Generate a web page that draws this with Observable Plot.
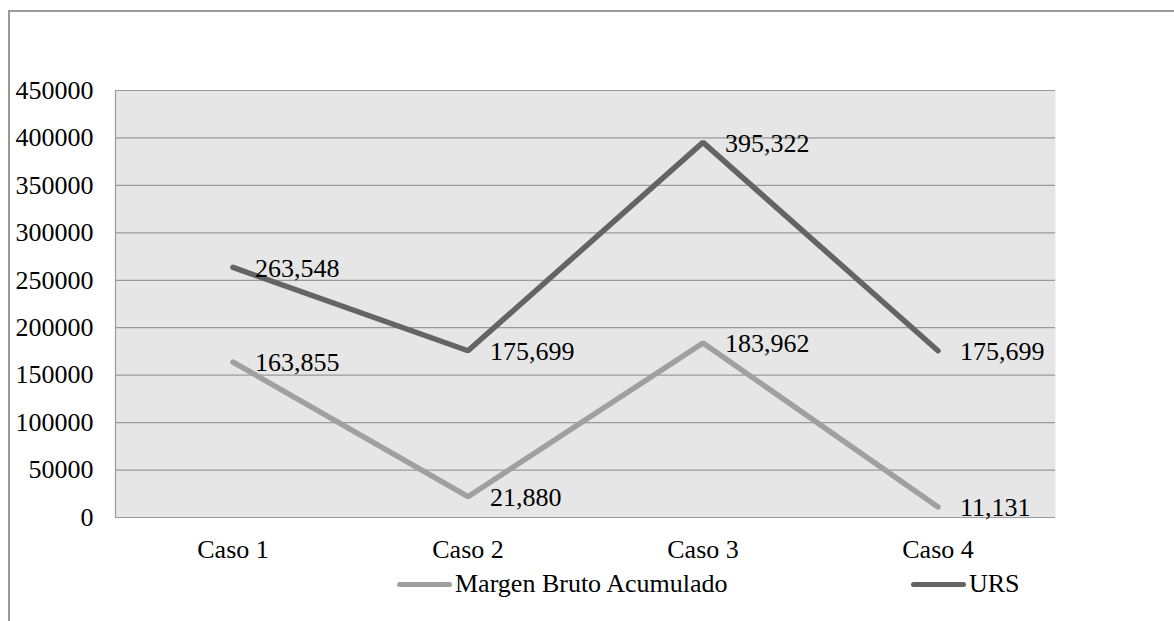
<!DOCTYPE html>
<html>
<head>
<meta charset="utf-8">
<script src="https://cdn.jsdelivr.net/npm/d3@7"></script>
<script src="https://cdn.jsdelivr.net/npm/@observablehq/plot@0.6"></script>
<style>
  html, body { margin: 0; padding: 0; background: #fff; }
  body { width: 1174px; height: 621px; position: relative; overflow: hidden; font-family: "Liberation Serif", "Times New Roman", serif; }
  #frame { position: absolute; left: 8px; top: 10px; width: 1180px; height: 640px; border-left: 2px solid #9a9a9a; border-top: 2px solid #9a9a9a; box-sizing: border-box; }
  #chart { position: absolute; left: 0; top: 0; }
  #chart svg, #chart svg text { font-family: "Liberation Serif", "Times New Roman", serif !important; }
  .leg { position: absolute; display: flex; align-items: center; font-size: 26px; color: #000; }
  .leg .sw { width: 55px; height: 5px; border-radius: 3px; margin-right: 3px; }
</style>
</head>
<body>
<div id="frame"></div>
<div id="chart"></div>
<div class="leg" style="left:397px; top:569px;"><span class="sw" style="background:#a0a0a0"></span><span>Margen Bruto Acumulado</span></div>
<div class="leg" style="left:911px; top:569px;"><span class="sw" style="background:#646464"></span><span>URS</span></div>
<script>
const categories = ["Caso 1", "Caso 2", "Caso 3", "Caso 4"];
const margenValues = [163855, 21880, 183962, 11131];
const ursValues = [263548, 175699, 395322, 175699];
const yTicks = [0, 50000, 100000, 150000, 200000, 250000, 300000, 350000, 400000, 450000];

const margen = categories.map((c, i) => ({cat: c, value: margenValues[i]}));
const urs = categories.map((c, i) => ({cat: c, value: ursValues[i]}));
const fmt = d3.format(",");
const FF = "'Liberation Serif', 'Times New Roman', serif";

const plot = Plot.plot({
  width: 1174,
  height: 600,
  marginLeft: 115,
  marginRight: 119,
  marginTop: 90,
  marginBottom: 83,
  style: {fontFamily: FF, fontSize: "26px", background: "transparent", color: "#000"},
  x: {type: "band", domain: categories, padding: 0, label: null},
  y: {domain: [0, 450000], label: null},
  marks: [
    Plot.frame({fill: "#e6e6e6", stroke: null}),
    Plot.gridY(yTicks, {stroke: "#9a9a9a", strokeOpacity: 1, strokeWidth: 1.2}),
    Plot.frame({anchor: "left", stroke: "#9a9a9a", strokeWidth: 1.2}),
    Plot.axisY(yTicks, {tickSize: 0, tickPadding: 22, tickFormat: d => String(d), fontSize: 26, fontFamily: FF, label: null}),
    Plot.axisX({tickSize: 0, tickPadding: 22, fontSize: 26, fontFamily: FF, label: null}),
    Plot.line(margen, {x: "cat", y: "value", stroke: "#a0a0a0", strokeWidth: 5.5, strokeLinecap: "round", strokeLinejoin: "miter"}),
    Plot.line(urs, {x: "cat", y: "value", stroke: "#646464", strokeWidth: 5.5, strokeLinecap: "round", strokeLinejoin: "miter"}),
    Plot.text(margen, {x: "cat", y: "value", text: d => fmt(d.value), textAnchor: "start", dx: 22, dy: 1, fontSize: 26, fontFamily: FF, fill: "#000"}),
    Plot.text(urs, {x: "cat", y: "value", text: d => fmt(d.value), textAnchor: "start", dx: 22, dy: 1, fontSize: 26, fontFamily: FF, fill: "#000"})
  ]
});
document.getElementById("chart").appendChild(plot);
</script>
</body>
</html>
